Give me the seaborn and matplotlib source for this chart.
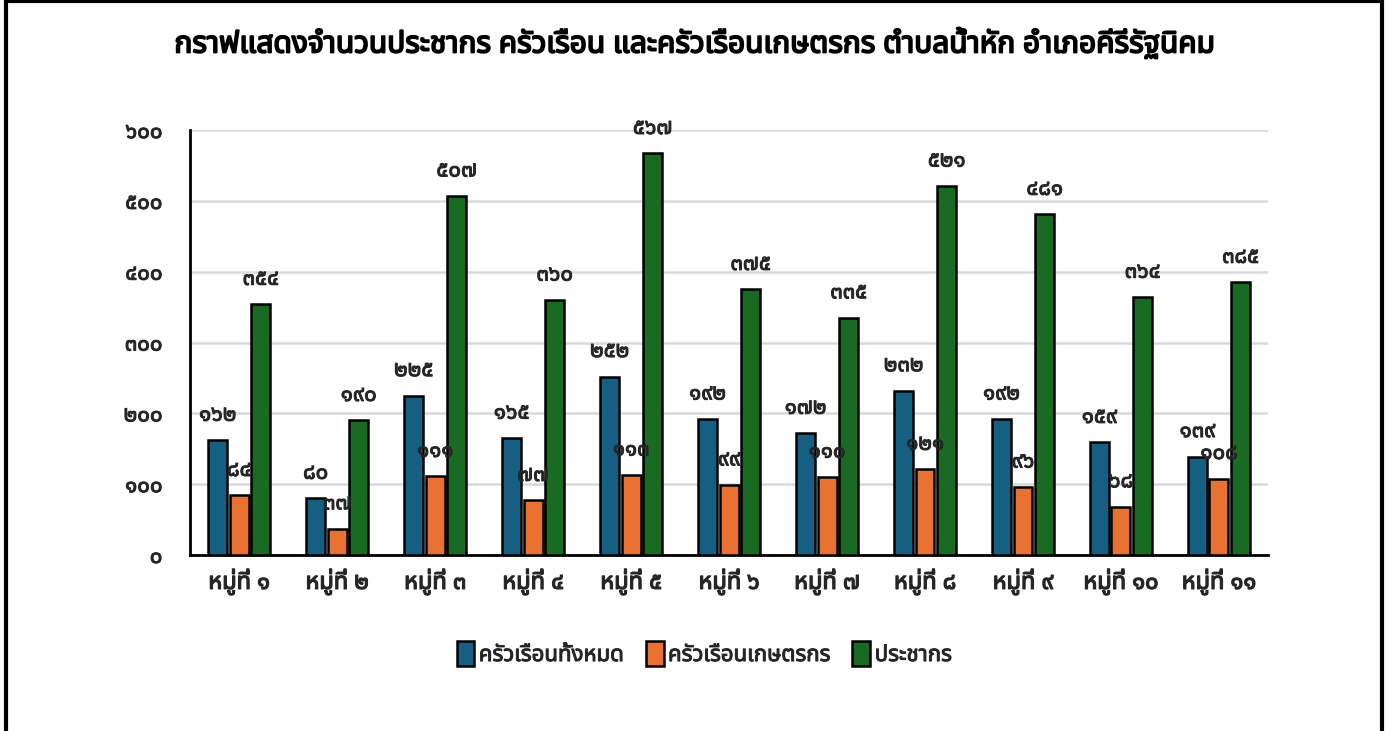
import pandas as pd
import numpy as np
import matplotlib
matplotlib.use("Agg")
import matplotlib.pyplot as plt
import seaborn as sns
from matplotlib import font_manager
from matplotlib.ft2font import FT2Font
from matplotlib.patches import Rectangle
import matplotlib.patheffects as pe

# ข้อมูลจากกราฟ
villages = ["หมู่ที่ ๑", "หมู่ที่ ๒", "หมู่ที่ ๓", "หมู่ที่ ๔", "หมู่ที่ ๕", "หมู่ที่ ๖",
            "หมู่ที่ ๗", "หมู่ที่ ๘", "หมู่ที่ ๙", "หมู่ที่ ๑๐", "หมู่ที่ ๑๑"]
households = [162, 80, 225, 165, 252, 192, 172, 232, 192, 159, 139]
farm_households = [84, 37, 111, 77, 113, 99, 110, 121, 96, 68, 108]
population = [354, 190, 507, 360, 567, 375, 335, 521, 481, 364, 385]
series_names = ["ครัวเรือนทั้งหมด", "ครัวเรือนเกษตรกร", "ประชากร"]
colors = ["#156082", "#E97132", "#196B24"]
yticks = [0, 100, 200, 300, 400, 500, 600]
title = "กราฟแสดงจำนวนประชากร ครัวเรือน และครัวเรือนเกษตรกร ตำบลน้ำหัก อำเภอคีรีรัฐนิคม"

THAI_DIGITS = str.maketrans("0123456789", "๐๑๒๓๔๕๖๗๘๙")


def thai_num(n):
    return str(n).translate(THAI_DIGITS)


# หาฟอนต์ที่มีอักษรไทย
def has_thai(path):
    try:
        cmap = FT2Font(path).get_charmap()
    except Exception:
        return False
    return 0x0E51 in cmap and 0x0E2B in cmap


thai_families = []
for f in font_manager.fontManager.ttflist:
    if f.name not in thai_families and has_thai(f.fname):
        thai_families.append(f.name)

preferred = ["Tahoma", "Leelawadee UI", "Noto Sans Thai", "Noto Sans Thai UI",
             "Noto Sans Thai Looped", "Loma", "Garuda", "Umpush", "Waree", "Sarabun"]
thai_font = None
for name in preferred:
    if name in thai_families:
        thai_font = name
        break
if thai_font is None and thai_families:
    thai_font = thai_families[0]

df = pd.DataFrame({
    "village": villages * 3,
    "series": [series_names[0]] * 11 + [series_names[1]] * 11 + [series_names[2]] * 11,
    "value": households + farm_households + population,
})

sns.set_theme(style="white")
fams = ([thai_font] if thai_font else []) + ["DejaVu Sans"]
plt.rcParams["font.family"] = fams

# ทำตัวหนาด้วยเส้นขอบ (ฟอนต์ไทยอาจไม่มีแบบหนา)
def bold(color, w=1.1):
    return [pe.withStroke(linewidth=w, foreground=color)]


fig = plt.figure(figsize=(13.88, 7.31), dpi=100)
ax = fig.add_axes([0.137, 0.2408, 0.7765, 0.5812])

sns.barplot(data=df, x="village", y="value", hue="series", palette=colors,
            saturation=1, width=0.66, gap=0.12, edgecolor="black", linewidth=1.8,
            ax=ax, zorder=3, legend=True)

# ป้ายตัวเลขเหนือแท่ง
for cont in ax.containers:
    for bar in cont:
        h = bar.get_height()
        ax.annotate(thai_num(int(round(h))),
                    (bar.get_x() + bar.get_width() / 2, h),
                    xytext=(0, 18), textcoords="offset points",
                    ha="center", va="center", fontsize=16,
                    color="#262626", zorder=4, path_effects=bold("#262626", 0.7))

ax.set_ylim(0, 600)
ax.set_xlim(-0.5, 10.5)
ax.set_yticks(yticks)
ax.set_yticklabels([thai_num(v) for v in yticks], fontsize=16, color="#262626")
ax.set_xticks(range(len(villages)))
ax.set_xticklabels(villages, fontsize=17, fontweight="bold", color="#262626")
for t in ax.get_yticklabels():
    t.set_path_effects(bold("#262626", 0.7))
for t in ax.get_xticklabels():
    t.set_path_effects(bold("#262626", 0.9))
ax.tick_params(axis="y", length=0, pad=20)
ax.tick_params(axis="x", length=0, pad=10)
ax.yaxis.grid(True, color="#d9d9d9", linewidth=1.8, zorder=0)
ax.set_axisbelow(True)
ax.set_xlabel("")
ax.set_ylabel("")
for s in ["top", "right"]:
    ax.spines[s].set_visible(False)
for s in ["left", "bottom"]:
    ax.spines[s].set_color("black")
    ax.spines[s].set_linewidth(2)

handles, labels = ax.get_legend_handles_labels()
leg = ax.legend(handles, labels, loc="upper center", bbox_to_anchor=(0.477, -0.155), ncol=3,
                frameon=False, fontsize=16, handlelength=0.8, handleheight=1.4,
                handletextpad=0.2, columnspacing=1.0)
for t in leg.get_texts():
    t.set_path_effects(bold("#262626", 0.7))
    t.set_color("#262626")

fig.text(0.5, 0.94, title, ha="center", va="center", fontsize=21.5, fontweight="bold",
         color="black", path_effects=bold("black", 1.3))

# กรอบรอบภาพ
fig.patches.append(Rectangle((0.004, -0.01), 0.992, 1.008, transform=fig.transFigure,
                             fill=False, edgecolor="black", linewidth=3))

fig.savefig("out.png", dpi=100)
